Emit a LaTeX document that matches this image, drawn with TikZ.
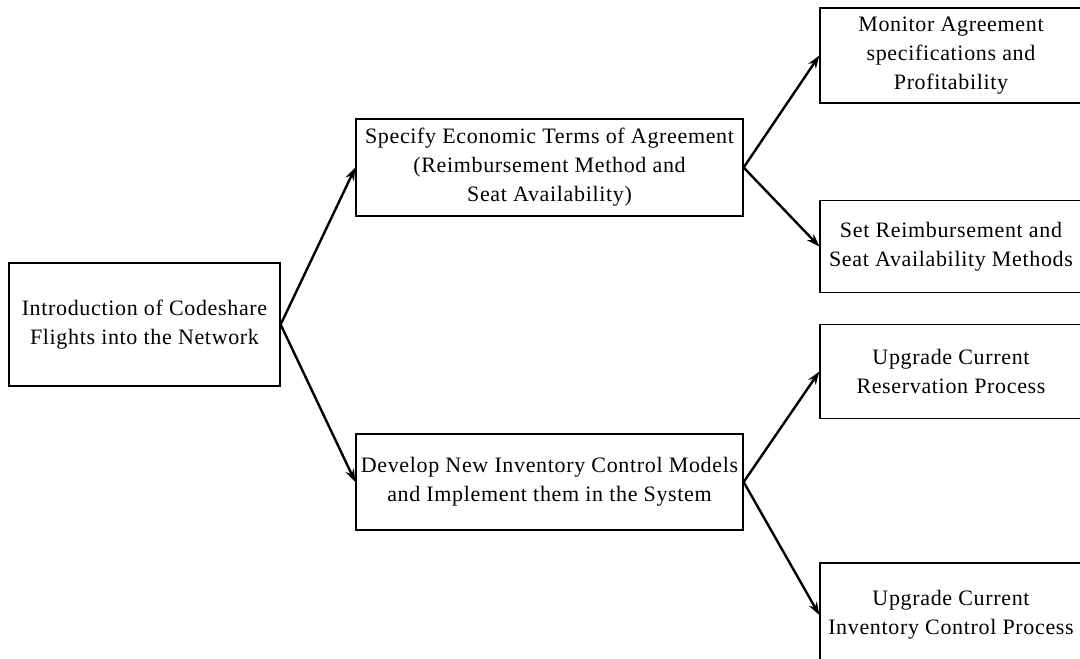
\documentclass[tikz,border=0pt]{standalone}
\usepackage{fontspec}
\setmainfont{Liberation Serif}[LetterSpace=3]
\usetikzlibrary{arrows.meta}
\begin{document}
\begin{tikzpicture}[x=1pt,y=-1pt,
  box/.style={draw=black, line width=1.3pt, inner sep=0pt, align=center,
    font=\fontsize{22}{29}\selectfont},
  conn/.style={line width=2.4pt, -{Stealth[length=13pt,width=9pt]}}]
\useasboundingbox (0,0) rectangle (1080,659);
\node[box, minimum width=271pt, minimum height=123pt] (intro) at (144.5,324.5)
  {Introduction of Codeshare\\Flights into the Network};
\node[box, minimum width=387pt, minimum height=97pt] (spec) at (549.5,167.5)
  {Specify Economic Terms of Agreement\\(Reimbursement Method and\\Seat Availability)};
\node[box, minimum width=387pt, minimum height=96pt] (dev) at (549.5,482)
  {Develop New Inventory Control Models\\and Implement them in the System};
\node[box, minimum width=262pt, minimum height=95pt] (mon) at (951,55.5)
  {Monitor Agreement\\specifications and\\Profitability};
\node[box, minimum width=262pt, minimum height=92pt] (set) at (951,246.5)
  {Set Reimbursement and\\Seat Availability Methods};
\node[box, minimum width=262pt, minimum height=94pt] (res) at (951,371.5)
  {Upgrade Current\\Reservation Process};
\node[box, minimum width=262pt, minimum height=104pt] (inv) at (951,615)
  {Upgrade Current\\Inventory Control Process};
\draw[conn] (intro.east) -- (spec.west);
\draw[conn] (intro.east) -- (dev.west);
\draw[conn] (spec.east) -- (mon.west);
\draw[conn] (spec.east) -- (set.west);
\draw[conn] (dev.east) -- (res.west);
\draw[conn] (dev.east) -- (inv.west);
\end{tikzpicture}
\end{document}
